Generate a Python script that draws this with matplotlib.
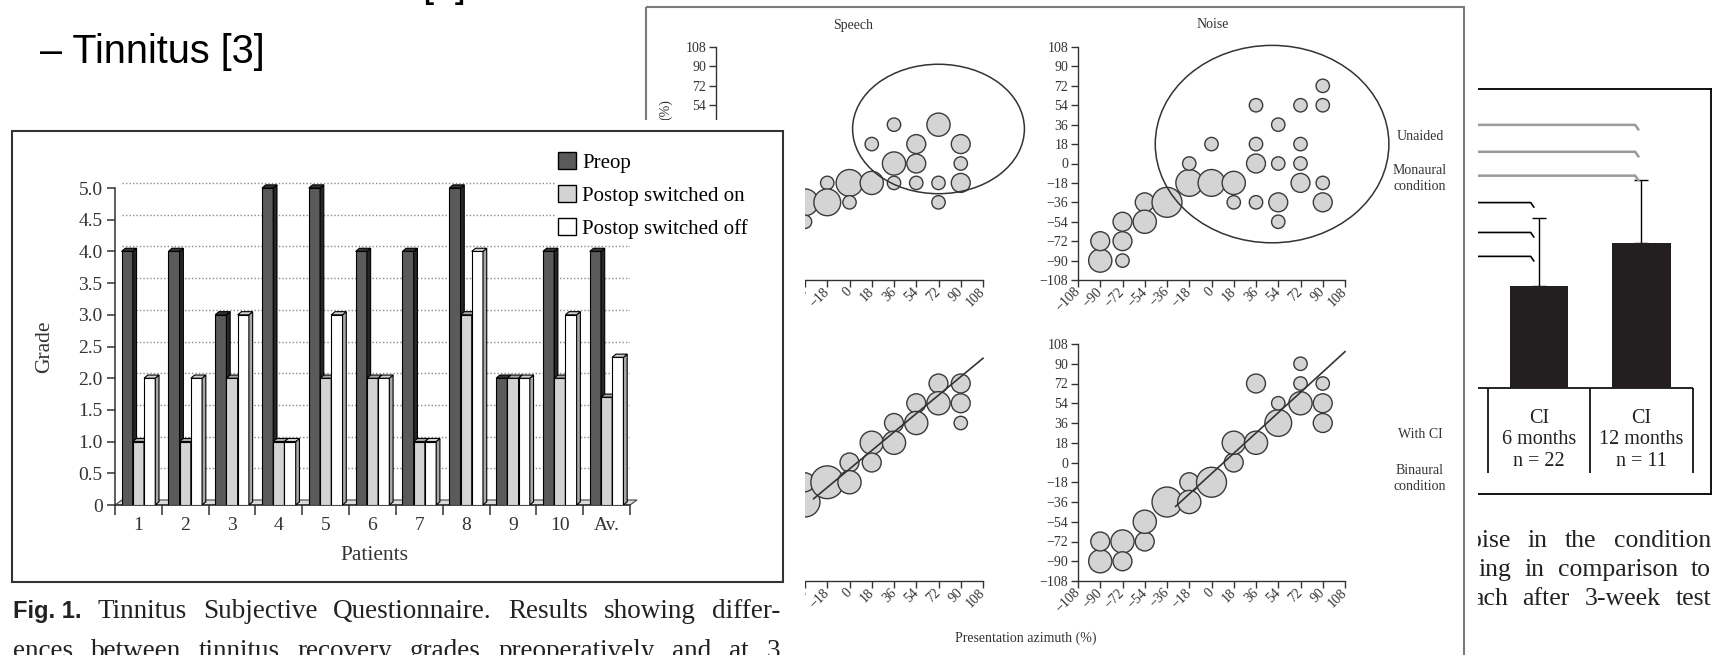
"""Slide collage: tinnitus questionnaire bars, localisation bubble plots and
CI outcome bars, rebuilt with matplotlib."""
import matplotlib
matplotlib.use("Agg")
import matplotlib.pyplot as plt
from matplotlib.patches import Ellipse, Patch, Rectangle
import numpy as np

W, H = 1714, 655
SERIF = ["Liberation Serif", "DejaVu Serif"]
SANS = ["Liberation Sans", "DejaVu Sans"]
plt.rcParams["font.family"] = SERIF

# --- Fig. 1: tinnitus grades per patient
patients = ["1", "2", "3", "4", "5", "6", "7", "8", "9", "10", "Av."]
preop = [4, 4, 3, 5, 5, 4, 4, 5, 2, 4, 4]
postop_on = [1, 1, 2, 1, 2, 2, 1, 3, 2, 2, 1.7]
postop_off = [2, 2, 3, 1, 3, 2, 1, 4, 2, 3, 2.33]
grade_ticks = [0, 0.5, 1, 1.5, 2, 2.5, 3, 3.5, 4, 4.5, 5]
grade_labels = ["0", "0.5", "1.0", "1.5", "2.0", "2.5", "3.0", "3.5", "4.0", "4.5", "5.0"]
series_names = ["Preop", "Postop switched on", "Postop switched off"]

# --- localisation: presentation azimuth, response azimuth, number of answers
az_ticks = [-108, -90, -72, -54, -36, -18, 0, 18, 36, 54, 72, 90, 108]

sp_un_x = [-36, -36, -18, -18, 0, 0, 18, 18, 36, 36, 36, 54, 54, 54, 72, 72, 72, 90, 90, 90]
sp_un_y = [-36, -54, -18, -36, -18, -36, -18, 18, 36, 0, -18, 18, 0, -18, 36, -18, -36, 18, 0, -18]
sp_un_n = [4, 1, 1, 4, 4, 1, 3, 1, 1, 3, 1, 2, 2, 1, 3, 1, 1, 2, 1, 2]

no_un_x = [-90, -90, -72, -72, -72, -54, -54, -36, -18, -18, 0, 0, 18, 18, 36,
           36, 36, 36, 54, 54, 54, 54, 72, 72, 72, 72, 90, 90, 90, 90]
no_un_y = [-90, -72, -90, -72, -54, -36, -54, -36, -18, 0, -18, 18, -18, -36, 54,
           18, 0, -36, 36, 0, -36, -54, 54, 18, 0, -18, 72, 54, -18, -36]
no_un_n = [3, 2, 1, 2, 2, 2, 3, 5, 4, 1, 4, 1, 3, 1, 1,
           1, 2, 1, 1, 1, 2, 1, 1, 1, 1, 2, 1, 1, 1, 2]

sp_ci_x = [-36, -36, -18, 0, 0, 18, 18, 36, 36, 54, 54, 72, 72, 90, 90, 90]
sp_ci_y = [-36, -18, -18, 0, -18, 18, 0, 36, 18, 54, 36, 72, 54, 72, 54, 36]
sp_ci_n = [5, 2, 6, 2, 3, 3, 2, 2, 3, 2, 3, 2, 3, 2, 2, 1]

no_ci_x = [-90, -90, -72, -72, -54, -54, -36, -18, -18, 0, 18, 18, 36, 36, 54,
           54, 72, 72, 72, 90, 90, 90]
no_ci_y = [-90, -72, -72, -90, -72, -54, -36, -18, -36, -18, 0, 18, 18, 72, 36,
           54, 54, 72, 90, 72, 54, 36]
no_ci_n = [3, 2, 3, 2, 2, 3, 5, 2, 3, 5, 2, 3, 3, 2, 4, 1, 3, 1, 1, 1, 2, 2]

sp_fit_x, sp_fit_y = [-29, 108], [-33, 95]
no_fit_x, no_fit_y = [-29, 108], [-40, 101]
# unaided response clouds: centre x, centre y, width, height
sp_cloud = [72, 32, 139, 120]
no_cloud = [49, 18, 189, 183]

# --- CI outcome bars (right figure)
ci_labels = ["CI\n6 months\nn = 22", "CI\n12 months\nn = 11"]
ci_mean = [34, 48.5]
ci_err = [23, 21]
sig_gray_y = [88, 79, 71]
sig_dark_y = [62, 52, 44]
sig_gray_end, sig_dark_end = 1.97, 0.95

fig = plt.figure(figsize=(W / 100, H / 100), dpi=100)
fig.patch.set_facecolor("white")


def px_axes(x0, y0, x1, y1, page=False, face="none"):
    ax = fig.add_axes([x0 / W, 1 - y1 / H, (x1 - x0) / W, (y1 - y0) / H])
    ax.set_facecolor(face)
    if page:
        ax.set_xlim(x0, x1)
        ax.set_ylim(y1, y0)
        ax.set_axis_off()
        ax.add_patch(Rectangle((x0, y0), x1 - x0, y1 - y0, fc=face, ec="none", zorder=0))
    return ax


def justify(ax, words, x0, x1, y, fonts):
    r = fig.canvas.get_renderer()
    ts = [ax.text(x0, y, w, va="baseline", ha="left", **f) for w, f in zip(words, fonts)]
    widths = [t.get_window_extent(r).width for t in ts]
    gap = (x1 - x0 - sum(widths)) / (len(ts) - 1)
    x = x0
    for t, w in zip(ts, widths):
        t.set_x(x)
        x += w + gap


# ---------------- right figure (lowest layer)
page_r = px_axes(1380, 0, 1714, 655, page=True, face="white")
cap = dict(fontsize=18.5, color="#222")
justify(page_r, ["oise", "in", "the", "condition"], 1469, 1711, 547, [cap] * 4)
justify(page_r, ["ing", "in", "comparison", "to"], 1479, 1711, 576, [cap] * 4)
justify(page_r, ["ach", "after", "3-week", "test"], 1472, 1711, 605, [cap] * 4)

ax_r = px_axes(1400, 89, 1711, 494)
ax_r.set_xlim(-0.356, 2.68)
ax_r.set_ylim(-35.5, 100)
ax_r.bar([1, 2], ci_mean, 0.57, color="#231f20", zorder=3)
ax_r.errorbar([1, 2], ci_mean, yerr=[[0, 0], ci_err], fmt="none", ecolor="black",
              elinewidth=1, capsize=5, capthick=1, zorder=2)
ax_r.hlines(0, -0.5, 2.5, color="black", lw=1.2)
ax_r.vlines([0.5, 1.5, 2.5], -28.4, 0, color="black", lw=1.2)
for k, lab in enumerate(ci_labels):
    ax_r.text(k + 1, -17.4, lab, ha="center", va="center", fontsize=14.5,
              linespacing=1.15, color="#222")
for y in sig_gray_y:
    ax_r.plot([-0.5, sig_gray_end - 0.03, sig_gray_end], [y, y, y - 1.5],
              color="#9a9a9a", lw=1.8)
for y in sig_dark_y:
    ax_r.plot([-0.5, sig_dark_end - 0.03, sig_dark_end], [y, y, y - 1.5],
              color="black", lw=1.2)
for s in ("top", "right", "bottom"):
    ax_r.spines[s].set_linewidth(1.3)
ax_r.spines["left"].set_visible(False)
ax_r.set_xticks([])
ax_r.set_yticks([])

# ---------------- localisation figure
page_s = px_axes(638, 0, 1478, 655, page=True, face="white")
page_s.add_patch(Rectangle((646, 7), 818, 700, fill=False, ec="#7a7a7a", lw=1.5,
                           clip_on=False, zorder=1))
small = dict(fontsize=10, color="#333")
page_s.text(853, 25, "Speech", ha="center", va="center", **small)
page_s.text(1213, 25, "Noise", ha="center", va="center", **small)
page_s.text(666, 110, "(%)", ha="center", va="center", rotation=90, **small)
page_s.text(1420, 136, "Unaided", ha="center", va="center", **small)
page_s.text(1420, 178, "Monaural\ncondition", ha="center", va="center",
            linespacing=1.3, **small)
page_s.text(1420, 435, "With CI", ha="center", va="center", **small)
page_s.text(1420, 479, "Binaural\ncondition", ha="center", va="center",
            linespacing=1.3, **small)
page_s.text(1026, 638, "Presentation azimuth (%)", ha="center", va="center", **small)


def bubble_panel(box, xs, ys, ns, cloud=None, fit=None, xlab_min=-108, ylab_min=-108):
    # labels below xlab_min / ylab_min sit under the pasted Fig. 1 and are left blank
    ax = px_axes(*box)
    ax.set_xlim(-108, 108)
    ax.set_ylim(-108, 108)
    ax.scatter(xs, ys, s=93 * np.array(ns), c="#d4d4d4", edgecolors="#3a3a3a",
               linewidths=1, zorder=3, clip_on=False)
    if cloud is not None:
        ax.add_patch(Ellipse((cloud[0], cloud[1]), cloud[2], cloud[3], fill=False,
                             ec="#333", lw=1.1, zorder=4, clip_on=False))
    if fit is not None:
        ax.plot(fit[0], fit[1], color="#333", lw=1.2, zorder=4, clip_on=False)
    for s in ("top", "right"):
        ax.spines[s].set_visible(False)
    for s in ("left", "bottom"):
        ax.spines[s].set_color("#333")
        ax.spines[s].set_linewidth(1)
    fmt = lambda t, lo: str(t).replace("-", "\u2212") if t >= lo else ""
    ax.set_xticks(az_ticks)
    ax.set_yticks(az_ticks)
    ax.set_xticklabels([fmt(t, xlab_min) for t in az_ticks])
    ax.set_yticklabels([fmt(t, ylab_min) for t in az_ticks])
    ax.tick_params(direction="out", length=5, width=1, colors="#333",
                   labelsize=10, pad=2)
    plt.setp(ax.get_xticklabels(), rotation=45, ha="right", va="center",
             rotation_mode="anchor")
    return ax


bubble_panel((716, 47, 983, 280), sp_un_x, sp_un_y, sp_un_n, cloud=sp_cloud,
             xlab_min=-36, ylab_min=36)
bubble_panel((1078, 47, 1345, 280), no_un_x, no_un_y, no_un_n, cloud=no_cloud)
bubble_panel((716, 344, 983, 581), sp_ci_x, sp_ci_y, sp_ci_n, fit=(sp_fit_x, sp_fit_y),
             xlab_min=-36, ylab_min=200)
bubble_panel((1078, 344, 1345, 581), no_ci_x, no_ci_y, no_ci_n, fit=(no_fit_x, no_fit_y))

# ---------------- Fig. 1 (top layer)
page_b = px_axes(0, 120, 805, 655, page=True, face="white")
page_b.add_patch(Rectangle((12, 131), 771, 451, fill=False, ec="#333", lw=1.5, zorder=1))
page_b.text(45, 347, "Grade", rotation=90, ha="center", va="center", fontsize=15.5, color="#333")
page_b.text(374, 555, "Patients", ha="center", va="center", fontsize=15.5, color="#333")
bold = dict(fontsize=17, family=SANS, weight="bold", color="#222")
serif = dict(fontsize=19.5, color="#222")
line1 = ["Fig. 1.", "Tinnitus", "Subjective", "Questionnaire.", "Results", "showing", "differ-"]
justify(page_b, line1, 13, 780, 618, [bold] + [serif] * 6)
line2 = ["ences", "between", "tinnitus", "recovery", "grades", "preoperatively", "and", "at", "3"]
justify(page_b, line2, 13, 780, 658, [serif] * 9)

ax = px_axes(115, 150, 630, 505)
ax.set_xlim(-0.5, 10.5)
ax.set_ylim(0, 5.6)
BW, DX, DY = 0.24, 0.08, 0.05
FDX, FDY = 0.15, 0.079
idx = np.arange(len(patients))

ax.fill([-0.5, 10.5, 10.5 + FDX, -0.5 + FDX], [0, 0, FDY, FDY], color="#dcdcdc",
        ec="#444", lw=0.8, zorder=1, clip_on=False)
ax.hlines([g + FDY for g in grade_ticks[1:]], -0.5 + FDX, 10.5 + FDX, colors="#8a8a8a",
          linestyles=(0, (1, 1.5)), lw=1, zorder=0.5)


def bars3d(xs, hs, face, side, top, z):
    ax.bar(xs, hs, BW, align="edge", color=face, edgecolor="black", linewidth=0.8, zorder=z)
    for x, h in zip(xs, hs):
        ax.fill([x + BW, x + BW + DX, x + BW + DX, x + BW], [0, DY, h + DY, h],
                color=side, ec="black", lw=0.8, zorder=z)
        ax.fill([x, x + DX, x + BW + DX, x + BW], [h, h + DY, h + DY, h],
                color=top, ec="black", lw=0.8, zorder=z)


bars3d(idx - 0.36, preop, "#5a5a5a", "#262626", "#333333", 3)
bars3d(idx - 0.12, postop_on, "#d3d3d3", "#8a8a8a", "#a5a5a5", 4)
bars3d(idx + 0.12, postop_off, "white", "#a8a8a8", "#d0d0d0", 5)

for s in ("top", "right"):
    ax.spines[s].set_visible(False)
ax.spines["left"].set_bounds(0, 5)
for s in ("left", "bottom"):
    ax.spines[s].set_color("#333")
    ax.spines[s].set_linewidth(1.1)
ax.set_yticks(grade_ticks)
ax.set_yticklabels(grade_labels)
ax.set_xticks(idx)
ax.set_xticklabels(patients)
ax.set_xticks(np.arange(-0.5, 11, 1), minor=True)
ax.tick_params(axis="y", direction="out", length=6, width=1.1, colors="#333",
               labelsize=14, pad=3)
ax.tick_params(axis="x", which="major", length=0, labelsize=14, pad=9, colors="#333")
ax.tick_params(axis="x", which="minor", direction="out", length=7, width=1.1, colors="#333")

handles = [Patch(fc="#5a5a5a", ec="black"), Patch(fc="#d3d3d3", ec="black"),
           Patch(fc="white", ec="black")]
leg = ax.legend(handles, series_names, loc="upper left", bbox_to_anchor=(556 / W, 1 - 150 / H),
                bbox_transform=fig.transFigure, frameon=True, facecolor="white",
                edgecolor="white", framealpha=1, fancybox=False, borderpad=0.1,
                borderaxespad=0, handlelength=0.85, handleheight=0.85,
                handletextpad=0.3, labelspacing=0.6, fontsize=15)
leg.set_zorder(10)

# ---------------- slide text
fig.text(40 / W, 1 - 63 / H, "\u2013 Tinnitus [3]", family=SANS, fontsize=28.5,
         va="baseline", color="black")
fig.text(422 / W, 1 + 3 / H, "[2]", family=SANS, fontsize=28.5, va="baseline", color="black")

fig.savefig("out.png", dpi=100, facecolor="white")
